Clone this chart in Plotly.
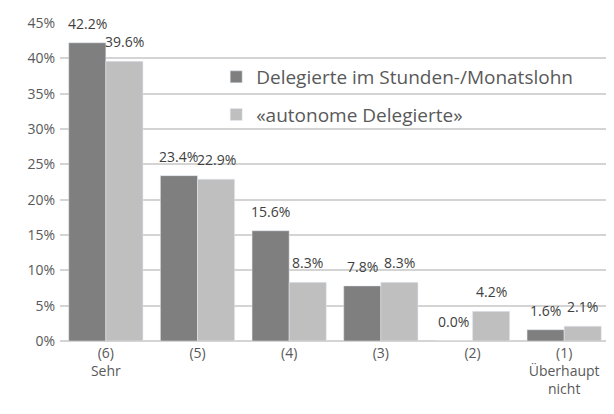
import plotly.graph_objects as go

categories = ["(6)<br>Sehr", "(5)", "(4)", "(3)", "(2)", "(1)<br>Überhaupt<br>nicht"]
series_names = ["Delegierte im Stunden-/Monatslohn", "«autonome Delegierte»"]
stunden = [0.422, 0.234, 0.156, 0.078, 0.0, 0.016]
autonome = [0.396, 0.229, 0.083, 0.083, 0.042, 0.021]
y_ticks = [0, 0.05, 0.10, 0.15, 0.20, 0.25, 0.30, 0.35, 0.40, 0.45]

font_family = "Open Sans, Liberation Sans, sans-serif"
W, H = 606, 406
L, R, T, B = 52, 4, 15, 73
BARGAP = 0.19
plot_w = W - L - R
bar_w = plot_w / len(categories) * (1 - BARGAP) / 2

fig = go.Figure()
series = [(series_names[0], stunden, "#7f7f7f"), (series_names[1], autonome, "#bfbfbf")]
for i, (name, vals, col) in enumerate(series):
    fig.add_trace(go.Bar(
        x=categories, y=vals, name=name, marker_color=col, legendgroup=f"g{i}",
        cliponaxis=False,
    ))
    shift = (-0.5 if i == 0 else 0.5) * bar_w
    for c, v in zip(categories, vals):
        fig.add_annotation(x=c, y=v, text=f"{v*100:.1f}%", showarrow=False,
                           xshift=shift, yshift=8, yanchor="bottom",
                           font=dict(size=14, color="#404040", family=font_family))

fig.update_layout(
    width=W, height=H,
    margin=dict(l=L, r=R, t=T, b=B, autoexpand=False),
    paper_bgcolor="white", plot_bgcolor="white",
    barmode="group", bargap=BARGAP, bargroupgap=0,
    font=dict(family=font_family, color="#595959", size=14),
    legend=dict(x=0.284, y=0.89, xanchor="left", yanchor="top",
                font=dict(size=19, color="#595959"), bgcolor="rgba(0,0,0,0)",
                traceorder="grouped", tracegroupgap=10, itemwidth=30),
    showlegend=True,
)
fig.update_yaxes(range=[0, 0.45], tickvals=y_ticks, tickformat=".0%", automargin=False,
                 showgrid=True, gridcolor="#d4d4d4", gridwidth=2,
                 zeroline=True, zerolinecolor="#d4d4d4", zerolinewidth=2,
                 ticks="", ticklabelstandoff=4, tickfont=dict(size=14, color="#595959"))
fig.update_xaxes(showgrid=False, ticks="", automargin=False, ticklabelstandoff=2,
                 tickfont=dict(size=14, color="#595959"))

fig.write_html("out.html")
